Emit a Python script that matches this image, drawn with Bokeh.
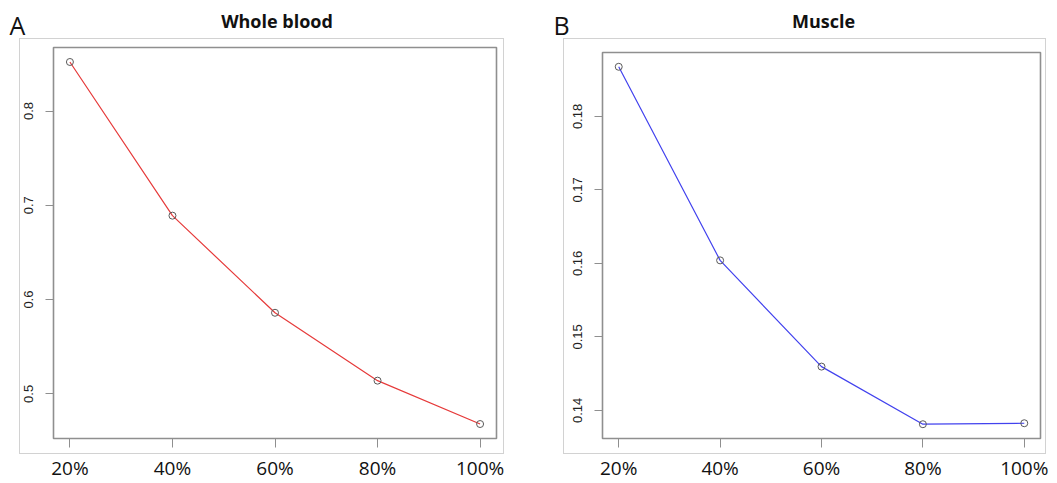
from bokeh.plotting import figure
from bokeh.models import FixedTicker, Label, ColumnDataSource, Range1d
from bokeh.embed import file_html
from bokeh.resources import INLINE

# sample fraction (%) and the value measured at each fraction
fractions = [20, 40, 60, 80, 100]
fraction_labels = ["20%", "40%", "60%", "80%", "100%"]
whole_blood = [0.852, 0.689, 0.586, 0.514, 0.468]
muscle = [0.18676, 0.16041, 0.14595, 0.13811, 0.13824]
blood_ticks = [0.5, 0.6, 0.7, 0.8]
muscle_ticks = [0.14, 0.15, 0.16, 0.17, 0.18]
titles = ["Whole blood", "Muscle"]
letters = ["A", "B"]

W, H = 1057, 483
HEADER_H = 38        # where the panel figures start
HEADER_CANVAS = 46   # header canvas overlaps the panels' empty top strip
BOX_GREY = "#8f8f8f"
FRAME_GREY = "#d2d2d2"
TEXT = "#111111"

# panel geometry in page pixels: panel x-offset, plot box (l, r, t, b), light frame (l, r, b)
panels = [
    dict(x0=0, width=530, box=(53, 496, 47, 441), frame=(19, 503, 453)),
    dict(x0=530, width=527, box=(602, 1040, 52, 441), frame=(563, 1045, 453)),
]


def placed(left, top, z=1):
    return {"position": "absolute", "left": "%dpx" % left, "top": "%dpx" % top,
            "z-index": str(z)}


def padded(vals, frac=0.04):
    lo, hi = min(vals), max(vals)
    d = (hi - lo) * frac
    return lo - d, hi + d


def frame_css(geom):
    """Thin light-grey rectangle drawn behind the figure canvas with CSS gradients."""
    x0 = geom["x0"]
    fl, fr, fb = geom["frame"]
    l, r = fl - x0, fr - x0
    b = fb - HEADER_H
    g = "linear-gradient(%s,%s)" % (FRAME_GREY, FRAME_GREY)
    css = {
        "background-color": "white",
        "background-image": ", ".join([g] * 4),
        "background-size": "%dpx 1px, %dpx 1px, 1px %dpx, 1px %dpx" % (r - l + 1, r - l + 1, b + 1, b + 1),
        "background-position": "%dpx 0px, %dpx %dpx, %dpx 0px, %dpx 0px" % (l, l, b, l, r),
        "background-repeat": "no-repeat",
    }
    css.update(placed(x0, HEADER_H, 1))
    return css


def panel(values, yticks, color, geom):
    x0 = geom["x0"]
    bl, br, bt, bb = geom["box"]
    h = H - HEADER_H
    p = figure(width=geom["width"], height=h, output_backend="svg", toolbar_location=None,
               title=None,
               min_border_left=bl - x0, min_border_right=x0 + geom["width"] - br,
               min_border_top=bt - HEADER_H, min_border_bottom=H - bb,
               background_fill_color="white", border_fill_color=None,
               styles=frame_css(geom))
    xs0, xs1 = padded(fractions)
    ys0, ys1 = padded(values)
    p.x_range = Range1d(xs0, xs1)
    p.y_range = Range1d(ys0, ys1)
    p.grid.visible = False

    p.outline_line_color = BOX_GREY
    p.outline_line_width = 1.6

    xa = p.xaxis[0]
    xa.ticker = FixedTicker(ticks=fractions)
    xa.major_label_overrides = {f: l for f, l in zip(fractions, fraction_labels)}
    xa.major_label_text_font = "Open Sans"
    xa.major_label_text_font_size = "19px"
    xa.major_label_text_color = TEXT
    xa.major_label_standoff = 7
    xa.major_tick_out = 9
    xa.major_tick_in = 0
    xa.minor_tick_line_color = None
    xa.axis_line_color = BOX_GREY
    xa.major_tick_line_color = BOX_GREY

    ya = p.yaxis[0]
    ya.ticker = FixedTicker(ticks=yticks)
    ya.major_label_orientation = "vertical"
    ya.major_label_text_font = "Liberation Sans"
    ya.major_label_text_font_size = "13px"
    ya.major_label_text_color = "#222222"
    ya.major_label_standoff = 12
    ya.major_tick_out = 8
    ya.major_tick_in = 0
    ya.minor_tick_line_color = None
    ya.axis_line_color = BOX_GREY
    ya.major_tick_line_color = BOX_GREY

    src = ColumnDataSource(dict(x=fractions, y=values))
    p.line("x", "y", source=src, line_color=color, line_width=1.2)
    p.scatter("x", "y", source=src, marker="circle", size=7, fill_color=None,
              line_color="#5a5a5a", line_width=1)
    return p


# transparent header layer with the panel letters and titles (positions in canvas pixels)
header = figure(width=W, height=HEADER_CANVAS, output_backend="svg", toolbar_location=None,
                title=None, x_axis_location=None, y_axis_location=None, min_border=0,
                x_range=Range1d(0, W), y_range=Range1d(0, HEADER_CANVAS),
                outline_line_color=None, background_fill_color=None,
                border_fill_color=None, styles=placed(0, 0, 2))
header.grid.visible = False
for geom, title, letter in zip(panels, titles, letters):
    bl, br, _, _ = geom["box"]
    header.add_layout(Label(x=(bl + br) / 2 + 2, y=20, x_units="canvas", y_units="canvas",
                            text=title, text_font="Open Sans", text_font_style="bold",
                            text_font_size="18px", text_color=TEXT,
                            text_align="center", text_baseline="middle"))
    header.add_layout(Label(x=geom["frame"][0] - 10, y=24, x_units="canvas", y_units="canvas",
                            text=letter, text_font="Open Sans", text_font_size="25px",
                            text_color=TEXT, text_align="left", text_baseline="middle"))

pa = panel(whole_blood, blood_ticks, "#e63a3a", panels[0])
pb = panel(muscle, muscle_ticks, "#4242ee", panels[1])

open("out.html", "w").write(file_html([header, pa, pb], INLINE))
